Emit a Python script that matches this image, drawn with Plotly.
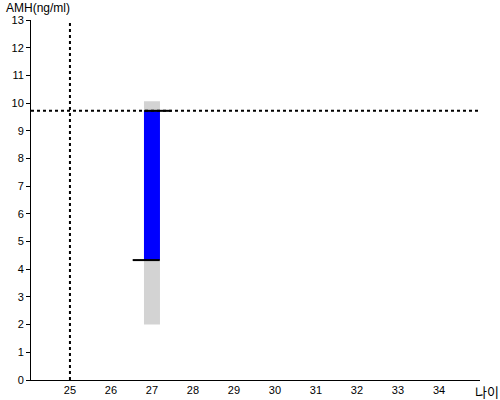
import plotly.graph_objects as go

age = 27
range_low, range_high = 2.0, 10.07
amh_low, amh_high = 4.33, 9.72
ref_age = 25
ref_amh = 9.72
x_ticks = [25, 26, 27, 28, 29, 30, 31, 32, 33, 34]
y_ticks = list(range(0, 14))

fig = go.Figure()
fig.add_trace(go.Bar(x=[age], y=[range_high - range_low], base=[range_low], width=0.39,
                     marker=dict(color="#d3d3d3", line=dict(width=0)), showlegend=False))
fig.add_trace(go.Bar(x=[age], y=[amh_high - amh_low], base=[amh_low], width=0.39,
                     marker=dict(color="#0000ff", line=dict(width=0)), showlegend=False))
fig.update_layout(barmode="overlay")
# horizontal markers
fig.add_trace(go.Scatter(x=[age - 0.47, age + 0.19], y=[amh_low, amh_low], mode="lines",
                         line=dict(color="black", width=2), showlegend=False))
fig.add_trace(go.Scatter(x=[age - 0.19, age + 0.48], y=[amh_high, amh_high], mode="lines",
                         line=dict(color="black", width=2), showlegend=False))
# reference dotted lines
fig.add_trace(go.Scatter(x=[ref_age, ref_age], y=[0, 13], mode="lines",
                         line=dict(color="black", width=2, dash="dot"), showlegend=False))
fig.add_trace(go.Scatter(x=[24.05, 35], y=[ref_amh, ref_amh], mode="lines",
                         line=dict(color="black", width=2, dash="dot"), showlegend=False))

fig.update_layout(
    width=500, height=400, margin=dict(l=31, r=20, t=20, b=20),
    plot_bgcolor="white", paper_bgcolor="white",
    font=dict(family="Liberation Sans, Arial", size=11, color="black"),
    xaxis=dict(range=[24.05, 35], tickvals=x_ticks, showgrid=False, zeroline=False,
               showline=True, linecolor="black", linewidth=1, ticks="", ticklen=0,
               automargin=False),
    yaxis=dict(range=[0, 13], tickvals=y_ticks, showgrid=False, zeroline=False,
               showline=True, linecolor="black", linewidth=1, ticks="outside", ticklen=4,
               tickcolor="black", automargin=False),
    annotations=[
        dict(text="AMH(ng/ml)", x=0, y=1, xref="paper", yref="paper", xanchor="left",
             yanchor="bottom", showarrow=False, xshift=-27, yshift=3, font=dict(size=12)),
        dict(text="나이", x=1, y=0, xref="paper", yref="paper", xanchor="right",
             yanchor="middle", showarrow=False, xshift=20, yshift=-11, borderpad=0,
             font=dict(size=13, family="Noto Sans CJK KR")),
    ],
)
fig.write_html("out.html", config={"displayModeBar": False},
               post_script="document.body.style.margin='0';document.body.style.padding='0';")
